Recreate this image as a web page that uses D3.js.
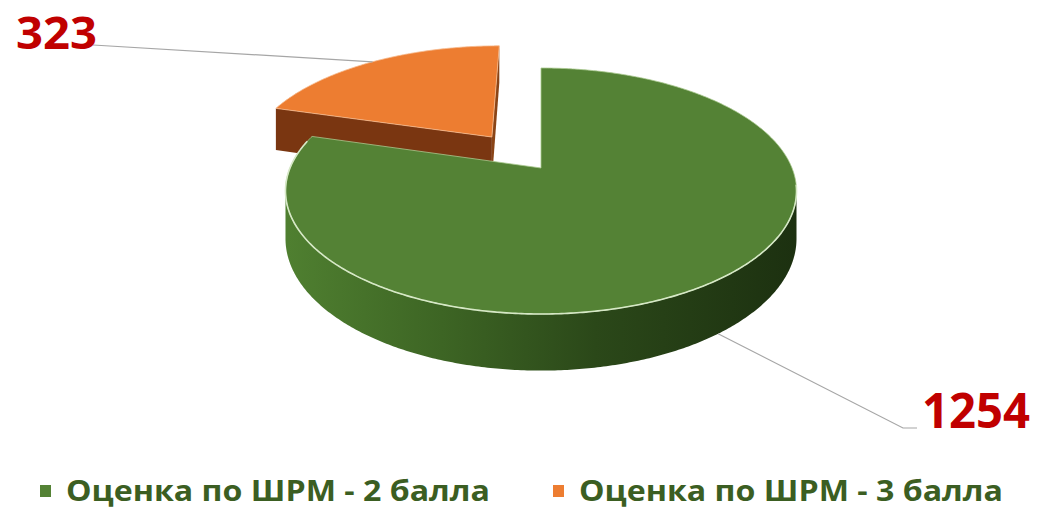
<!DOCTYPE html>
<html lang="ru">
<head>
<meta charset="utf-8">
<title>ШРМ</title>
<script src="https://cdn.jsdelivr.net/npm/d3@7"></script>
<style>
  body { margin: 0; background: #fff; }
  svg { display: block; }
</style>
</head>
<body>
<script>
var categories = ["Оценка по ШРМ - 2 балла", "Оценка по ШРМ - 3 балла"];
var values = [1254, 323];
var valueLabels = ["1254", "323"];

var w = 1038, h = 510;
var topColors = ["#548235", "#ed7d31"];
var legendColors = ["#548235", "#ed7d31"];

// 3d projection of the disc (unit radius), simple perspective
var cx = 541, cy = 168, rx = 251, ry = 118.7, k = 0.187, depth = 46;
function proj(u, v, hh) {
  var s = 1 / (1 + k * v);
  return [cx + rx * u * s, cy - ry * v * s + hh * depth * s];
}
var explode = [0, 0.343];

var svg = d3.select("body").append("svg")
  .attr("width", w).attr("height", h);

var defs = svg.append("defs");
var g1 = defs.append("linearGradient").attr("id", "gwall")
  .attr("gradientUnits", "userSpaceOnUse")
  .attr("x1", 288).attr("x2", 800).attr("y1", 0).attr("y2", 0);
[[0, "#4f7f30"], [0.3, "#3d6524"], [0.6, "#2b4819"], [1, "#1c3010"]].forEach(function(s) {
  g1.append("stop").attr("offset", s[0]).attr("stop-color", s[1]);
});

var pie = d3.pie().sort(null).value(function(d) { return d; });
var arcs = pie(values);
var line = d3.line();

function offsetOf(i, a) {
  var mid = (a.startAngle + a.endAngle) / 2;
  return [Math.sin(mid) * explode[i], Math.cos(mid) * explode[i]];
}
function pt(off, ang, r, hh) {
  return proj(off[0] + Math.sin(ang) * r, off[1] + Math.cos(ang) * r, hh);
}
function arcPts(off, a0, a1, hh) {
  var n = Math.max(2, Math.ceil(Math.abs(a1 - a0) / 0.01));
  return d3.range(n + 1).map(function(j) { return pt(off, a0 + (a1 - a0) * j / n, 1, hh); });
}

var tA = Math.acos(-k), tB = 2 * Math.PI - Math.acos(-k);

function drawSlice(i) {
  var a = arcs[i], off = offsetOf(i, a);
  var g = svg.append("g");
  // radial faces
  var endFace = [pt(off, 0, 0, 0), pt(off, a.endAngle, 1, 0), pt(off, a.endAngle, 1, 1), pt(off, 0, 0, 1)];
  var startFace = [pt(off, 0, 0, 0), pt(off, a.startAngle, 1, 0), pt(off, a.startAngle, 1, 1), pt(off, 0, 0, 1)];
  if (i === 1) {
    g.append("path").attr("d", line(endFace) + "Z").attr("fill", "#8a4416");
    g.append("path").attr("d", line(startFace) + "Z").attr("fill", "#7a3611");
  }
  // outer wall (front-facing part)
  var a0 = Math.max(a.startAngle, tA), a1 = Math.min(a.endAngle, tB);
  if (a1 > a0) {
    var wall = arcPts(off, a0, a1, 0).concat(arcPts(off, a1, a0, 1));
    g.append("path").attr("d", line(wall) + "Z")
      .attr("fill", i === 0 ? "url(#gwall)" : "#7a3611");
  }
  // top
  var top = [pt(off, 0, 0, 0)].concat(arcPts(off, a.startAngle, a.endAngle, 0));
  g.append("path").attr("d", line(top) + "Z")
    .attr("fill", topColors[i])
    .attr("stroke", i === 0 ? "#a9c98f" : "#f6b98c")
    .attr("stroke-width", 0.8);
  if (i === 0) {
    g.append("path").attr("d", line(arcPts(off, Math.max(a.startAngle, tA - 0.05), Math.min(a.endAngle, 4.95), 0)))
      .attr("fill", "none").attr("stroke", "#d6e8c6").attr("stroke-width", 1.6);
  }
}
drawSlice(1);
drawSlice(0);

// leader lines and value labels
var mid0 = (arcs[0].startAngle + arcs[0].endAngle) / 2;
var p0 = pt(offsetOf(0, arcs[0]), mid0, 1, 1);
var mid1 = (arcs[1].startAngle + arcs[1].endAngle) / 2;
var p1 = pt(offsetOf(1, arcs[1]), mid1, 1, 0);

svg.append("path").attr("d", line([p0, [903, 428], [917, 428]]))
  .attr("fill", "none").attr("stroke", "#a6a6a6").attr("stroke-width", 1.2);
svg.append("path").attr("d", line([p1, [93, 45]]))
  .attr("fill", "none").attr("stroke", "#a6a6a6").attr("stroke-width", 1.2);

svg.append("text").text(valueLabels[0])
  .attr("x", 922).attr("y", 428)
  .attr("font-family", "Open Sans").attr("font-weight", 700)
  .attr("font-size", "48px").attr("fill", "#c00000")
  .attr("textLength", 108).attr("lengthAdjust", "spacingAndGlyphs");
svg.append("text").text(valueLabels[1])
  .attr("x", 16).attr("y", 49)
  .attr("font-family", "Open Sans").attr("font-weight", 700)
  .attr("font-size", "45px").attr("fill", "#c00000")
  .attr("textLength", 81).attr("lengthAdjust", "spacingAndGlyphs");

// legend
var legX = [40, 553], legTextW = [424, 424];
categories.forEach(function(c, i) {
  svg.append("rect").attr("x", legX[i]).attr("y", 485)
    .attr("width", 11).attr("height", 12).attr("fill", legendColors[i]);
  svg.append("text").text(c)
    .attr("x", legX[i] + 26).attr("y", 501)
    .attr("font-family", "Open Sans").attr("font-weight", 700)
    .attr("font-size", "28px").attr("fill", "#3b5e22")
    .attr("textLength", legTextW[i]).attr("lengthAdjust", "spacingAndGlyphs");
});
</script>
</body>
</html>
